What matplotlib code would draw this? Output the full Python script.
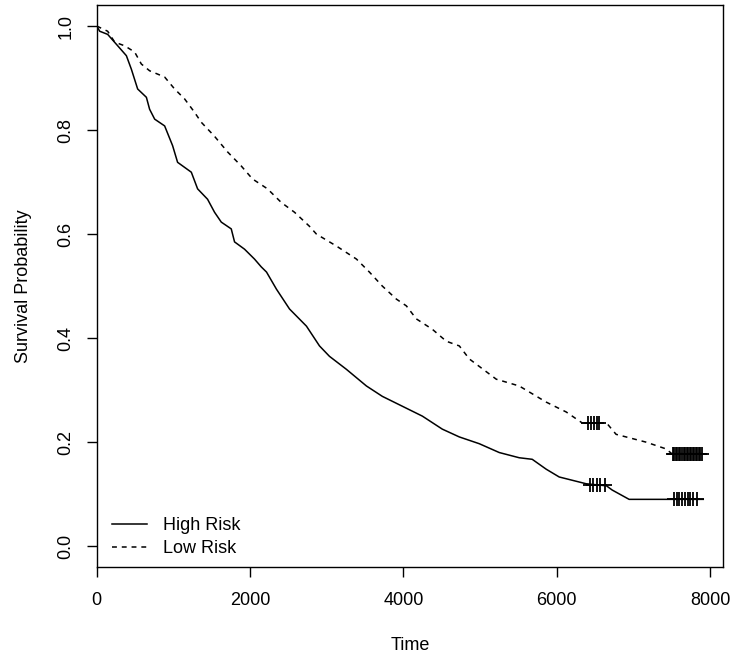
import numpy
import matplotlib
matplotlib.use("Agg")
import matplotlib.pyplot as plt

plt.rcParams["font.family"] = ["Liberation Sans", "DejaVu Sans"]

# survival curves (time, probability)
high_t = [0, 39, 143, 274, 387, 452, 534, 648, 690, 756, 886, 990, 1055,
          1234, 1316, 1446, 1537, 1625, 1755, 1798, 1928, 2058, 2146, 2215,
          2345, 2515, 2736, 2906, 3036, 3257, 3518, 3726, 3987, 4248, 4508,
          4730, 4990, 5251, 5511, 5681, 5863, 6033, 6384, 6650, 6723, 6945,
          7912]
high_s = [1.0, 0.99, 0.984, 0.962, 0.943, 0.917, 0.879, 0.863, 0.840, 0.821,
          0.808, 0.770, 0.738, 0.719, 0.687, 0.667, 0.642, 0.623, 0.610,
          0.585, 0.571, 0.552, 0.537, 0.527, 0.494, 0.456, 0.423, 0.385,
          0.365, 0.340, 0.308, 0.288, 0.269, 0.250, 0.225, 0.210, 0.197,
          0.180, 0.170, 0.167, 0.148, 0.133, 0.120, 0.116, 0.108, 0.090,
          0.090]

low_t = [0, 143, 235, 365, 495, 582, 690, 886, 1016, 1146, 1277, 1364, 1537,
         1707, 1885, 2032, 2228, 2406, 2580, 2775, 2866, 3127, 3388, 3557,
         3726, 3909, 4039, 4169, 4378, 4560, 4730, 4860, 5212, 5511, 5863,
         6124, 6332, 6650, 6775, 7166, 7427, 7500, 7891]
low_s = [1.0, 0.99, 0.969, 0.962, 0.950, 0.927, 0.914, 0.902, 0.879, 0.860,
         0.834, 0.815, 0.788, 0.758, 0.731, 0.706, 0.687, 0.661, 0.642,
         0.615, 0.600, 0.577, 0.552, 0.527, 0.500, 0.475, 0.462, 0.437,
         0.417, 0.394, 0.385, 0.360, 0.321, 0.308, 0.277, 0.258, 0.237,
         0.237, 0.215, 0.200, 0.187, 0.178, 0.178]

# censored observations
high_cens_t = [6434, 6475, 6520, 6570, 6625,
               7530, 7565, 7600, 7640, 7675, 7710, 7745, 7780, 7826]
high_cens_s = [0.118] * 5 + [0.090] * 9
low_cens_t = [6412, 6443, 6486, 6521, 6555,
              7517, 7535, 7555, 7575, 7595, 7615, 7635, 7655, 7675, 7695,
              7715, 7735, 7755, 7775, 7795, 7815, 7835, 7855, 7875, 7891]
low_cens_s = [0.237] * 5 + [0.178] * 20

labels = ["High Risk", "Low Risk"]
x_ticks = [0, 2000, 4000, 6000, 8000]
y_ticks = [0.0, 0.2, 0.4, 0.6, 0.8, 1.0]


def main():
    fig = plt.figure(figsize=(7.31, 6.55), dpi=100)
    ax = fig.add_axes([0.1323, 0.1344, 0.9890 - 0.1323, 0.9920 - 0.1344])

    lw = 1.1
    l1, = ax.plot(high_t, high_s, "-", color="black", lw=lw, label=labels[0])
    l2, = ax.plot(low_t, low_s, color="black", lw=lw, ls=(0, (3.2, 3.2)),
                  label=labels[1])
    ax.plot(high_cens_t, high_cens_s, "+", color="black", ms=10.5, mew=1.3)
    ax.plot(low_cens_t, low_cens_s, "+", color="black", ms=10.5, mew=1.3)

    ax.set_xlim(0, 8169)
    ax.set_ylim(-0.04, 1.04)
    ax.set_xticks(x_ticks)
    ax.set_xticklabels([str(v) for v in x_ticks])
    ax.set_yticks(y_ticks)
    ax.set_yticklabels(["%.1f" % v for v in y_ticks], rotation=90, va="center")
    ax.tick_params(direction="out", length=7, width=1.0, labelsize=13)
    ax.tick_params(axis="x", pad=11)
    ax.tick_params(axis="y", pad=9)
    for sp in ax.spines.values():
        sp.set_linewidth(1.0)

    ax.set_xlabel("Time", fontsize=13, labelpad=20)
    ax.set_ylabel("Survival Probability", fontsize=13, labelpad=18)

    ax.legend(handles=[l1, l2], loc="lower left", frameon=False,
              fontsize=13, handlelength=1.9, handletextpad=0.9,
              labelspacing=0.3, borderaxespad=0, borderpad=0,
              bbox_to_anchor=(0.025, 0.018))

    fig.savefig("out.png", dpi=100)
    return


if __name__ == "__main__":
    main()
